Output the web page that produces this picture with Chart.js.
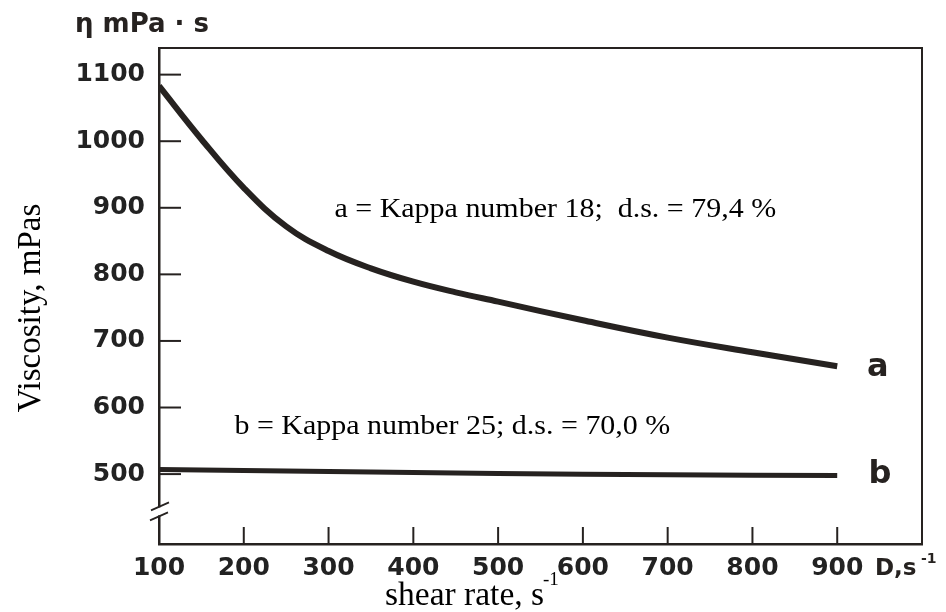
<!DOCTYPE html>
<html>
<head>
<meta charset="utf-8">
<title>Viscosity vs shear rate</title>
<script src="https://cdn.jsdelivr.net/npm/chart.js@4.4.1/dist/chart.umd.min.js"></script>
<style>
  html, body { margin: 0; padding: 0; background: #fff; }
  #wrap { width: 946px; height: 612px; }
</style>
</head>
<body>
<div id="wrap"><canvas id="viscChart" width="946" height="612"></canvas></div>
<script>
// shear rate D (1/s) and viscosity (mPa·s) for the two liquors
const shearRate = [100, 150, 200, 250, 300, 350, 400, 450, 500, 600, 700, 800, 900];
const viscA = [1083, 1003, 930, 872, 835, 809, 789, 773, 759, 731, 705, 683, 662];
const shearRateB = [100, 300, 500, 700, 900];
const viscB = [507, 504, 501, 499, 498];

const xTicks = [100, 200, 300, 400, 500, 600, 700, 800, 900];
const yTicks = [500, 600, 700, 800, 900, 1000, 1100];

const INK = "#262220";
const SANS = '"DejaVu Sans", sans-serif';
const SERIF = '"Liberation Serif", "Times New Roman", serif';

function textAt(ctx, text, x, y, sx) {
  ctx.save();
  ctx.translate(x, y);
  ctx.scale(sx || 1, 1);
  ctx.fillText(text, 0, 0);
  ctx.restore();
}

// frame, inward ticks, axis break and the written labels
const axisDecor = {
  id: "axisDecor",
  afterDraw(chart) {
    const { ctx, chartArea: a, scales: { x, y } } = chart;
    ctx.save();
    ctx.strokeStyle = INK;
    ctx.lineCap = "butt";

    ctx.lineWidth = 2;
    ctx.beginPath();
    ctx.moveTo(a.left, a.top);
    ctx.lineTo(a.right, a.top);
    ctx.lineTo(a.right, a.bottom);
    ctx.stroke();

    yTicks.forEach(v => {
      const py = y.getPixelForValue(v);
      ctx.beginPath();
      ctx.moveTo(a.left, py);
      ctx.lineTo(a.left + 22, py);
      ctx.stroke();
    });
    xTicks.slice(1).forEach(v => {
      const px = x.getPixelForValue(v);
      ctx.beginPath();
      ctx.moveTo(px, a.bottom);
      ctx.lineTo(px, a.bottom - 17);
      ctx.stroke();
    });

    // broken y axis
    const yb = y.getPixelForValue(444);
    ctx.fillStyle = "#fff";
    ctx.fillRect(a.left - 3, yb - 4, 6, 8);
    ctx.lineWidth = 1.8;
    ctx.beginPath();
    ctx.moveTo(a.left - 8, yb - 1);
    ctx.lineTo(a.left + 10, yb - 9);
    ctx.moveTo(a.left - 9, yb + 9);
    ctx.lineTo(a.left + 9, yb + 1);
    ctx.stroke();

    // curve notes
    ctx.fillStyle = "#000";
    ctx.textAlign = "left";
    ctx.textBaseline = "alphabetic";
    ctx.font = "27px " + SERIF;
    textAt(ctx, "a = Kappa number 18;  d.s. = 79,4 %", x.getPixelForValue(307), y.getPixelForValue(886), 1.11);
    textAt(ctx, "b = Kappa number 25; d.s. = 70,0 %", x.getPixelForValue(189), y.getPixelForValue(560), 1.11);

    ctx.fillStyle = INK;
    ctx.font = "bold 32px " + SANS;
    ctx.fillText("a", x.getPixelForValue(935), y.getPixelForValue(647));
    ctx.fillText("b", x.getPixelForValue(937), y.getPixelForValue(486));

    // unit above the y axis
    ctx.font = "bold 26px " + SANS;
    ctx.fillText("\u03b7 mPa \u00b7 s", 75, 32);

    // unit after the last x tick
    ctx.font = "bold 23px " + SANS;
    ctx.fillText("D,s", 875, 575);
    ctx.font = "bold 14px " + SANS;
    ctx.fillText("-1", 921, 563);

    // axis titles
    ctx.fillStyle = "#000";
    ctx.font = "33.5px " + SERIF;
    ctx.fillText("shear rate, s", 385, 605);
    ctx.font = "19px " + SERIF;
    ctx.fillText("-1", 543, 585);

    ctx.save();
    ctx.translate(40, 308);
    ctx.rotate(-Math.PI / 2);
    ctx.textAlign = "center";
    ctx.font = "33px " + SERIF;
    ctx.fillText("Viscosity, mPas", 0, 0);
    ctx.restore();

    ctx.restore();
  }
};

const tickFont = { family: SANS, size: 25, weight: "bold" };

new Chart(document.getElementById("viscChart"), {
  type: "line",
  data: {
    datasets: [
      {
        label: "a",
        data: shearRate.map((d, i) => ({ x: d, y: viscA[i] })),
        borderColor: INK,
        borderWidth: 6,
        pointRadius: 0,
        tension: 0.4,
        borderCapStyle: "butt"
      },
      {
        label: "b",
        data: shearRateB.map((d, i) => ({ x: d, y: viscB[i] })),
        borderColor: INK,
        borderWidth: 5,
        pointRadius: 0,
        tension: 0.4,
        borderCapStyle: "butt"
      }
    ]
  },
  options: {
    responsive: false,
    animation: false,
    layout: { padding: { top: 48, right: 24, left: 0, bottom: 0 } },
    plugins: {
      legend: { display: false },
      tooltip: { enabled: false }
    },
    scales: {
      x: {
        type: "linear",
        min: 100,
        max: 1000,
        afterBuildTicks: s => { s.ticks = xTicks.map(v => ({ value: v })); },
        afterFit: s => { s.height = 68; },
        grid: { display: false },
        border: { display: true, color: INK, width: 2.5 },
        ticks: { color: "#222", font: tickFont, padding: 1, maxRotation: 0, autoSkip: false, callback: v => String(v) }
      },
      y: {
        type: "linear",
        min: 395,
        max: 1140,
        afterBuildTicks: s => { s.ticks = yTicks.map(v => ({ value: v })); },
        afterFit: s => { s.width = 159; },
        grid: { display: false },
        border: { display: true, color: INK, width: 2.5 },
        ticks: { color: "#222", font: tickFont, padding: 6, callback: v => String(v) }
      }
    }
  },
  plugins: [axisDecor]
});
</script>
</body>
</html>
